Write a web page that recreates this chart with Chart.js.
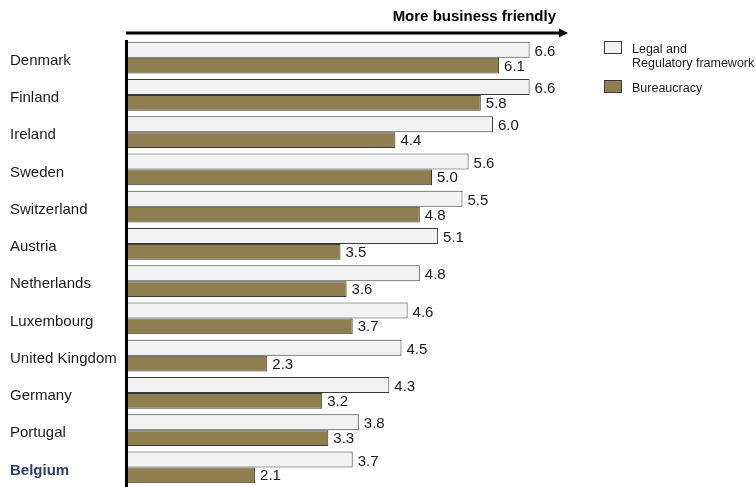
<!DOCTYPE html>
<html>
<head>
<meta charset="utf-8">
<script src="https://cdn.jsdelivr.net/npm/chart.js@4.4.1/dist/chart.umd.min.js"></script>
<style>
  html, body { margin: 0; padding: 0; background: #fff; overflow: hidden; }
  canvas { display: block; }
</style>
</head>
<body>
<canvas id="chart" width="756" height="495"></canvas>
<script>
  const countries = [
    "Denmark", "Finland", "Ireland", "Sweden", "Switzerland", "Austria",
    "Netherlands", "Luxembourg", "United Kingdom", "Germany", "Portugal", "Belgium"
  ];
  const legalFramework = [6.6, 6.6, 6.0, 5.6, 5.5, 5.1, 4.8, 4.6, 4.5, 4.3, 3.8, 3.7];
  const bureaucracy = [6.1, 5.8, 4.4, 5.0, 4.8, 3.5, 3.6, 3.7, 2.3, 3.2, 3.3, 2.1];
  const seriesNames = [["Legal and", "Regulatory framework"], ["Bureaucracy"]];
  const headline = "More business friendly";

  const FONT = '"Liberation Sans", Arial, sans-serif';
  const LIGHT = "#f2f2f2";
  const OLIVE = "#8f7f50";
  const EDGE = "#3a3a3a";
  const HIGHLIGHT = "Belgium";

  // value labels past the bar ends, then the thick baseline on top of the bars
  const valueLabels = {
    id: "valueLabels",
    afterDatasetsDraw(chart) {
      const { ctx, chartArea } = chart;
      const dy = [2, 1];
      ctx.save();
      ctx.font = "15px " + FONT;
      ctx.fillStyle = "#1a1a1a";
      ctx.textAlign = "left";
      ctx.textBaseline = "middle";
      chart.data.datasets.forEach((ds, i) => {
        chart.getDatasetMeta(i).data.forEach((bar, j) => {
          ctx.fillText(ds.data[j].toFixed(1), bar.x + 5, bar.y + dy[i]);
        });
      });
      ctx.strokeStyle = "#000";
      ctx.lineWidth = 3;
      ctx.beginPath();
      ctx.moveTo(chartArea.left - 0.5, chartArea.top + 1);
      ctx.lineTo(chartArea.left - 0.5, chart.height);
      ctx.stroke();
      ctx.restore();
    }
  };

  // arrow + caption on top, legend on the right
  const decorations = {
    id: "decorations",
    afterDraw(chart) {
      const { ctx, chartArea } = chart;
      const y = 33;
      const x0 = chartArea.left;
      const tip = 568;
      ctx.save();
      ctx.strokeStyle = "#000";
      ctx.fillStyle = "#000";
      ctx.lineWidth = 3;
      ctx.beginPath();
      ctx.moveTo(x0 - 1, y);
      ctx.lineTo(tip - 6, y);
      ctx.stroke();
      ctx.beginPath();
      ctx.moveTo(tip, y);
      ctx.lineTo(tip - 9, y - 4.5);
      ctx.lineTo(tip - 9, y + 4.5);
      ctx.closePath();
      ctx.fill();

      ctx.font = "bold 15px " + FONT;
      ctx.textAlign = "right";
      ctx.textBaseline = "middle";
      ctx.fillText(headline, 556, 17);

      // legend
      const boxes = [
        { y: 41, fill: LIGHT, lines: seriesNames[0], ty: 50 },
        { y: 80, fill: OLIVE, lines: seriesNames[1], ty: 89 }
      ];
      ctx.font = "12.5px " + FONT;
      ctx.textAlign = "left";
      ctx.lineWidth = 1;
      boxes.forEach((b) => {
        ctx.fillStyle = b.fill;
        ctx.fillRect(604.5, b.y + 0.5, 17, 12);
        ctx.strokeStyle = EDGE;
        ctx.strokeRect(604.5, b.y + 0.5, 17, 12);
        ctx.fillStyle = "#1a1a1a";
        b.lines.forEach((t, k) => ctx.fillText(t, 632, b.ty + k * 13.5));
      });
      ctx.restore();
    }
  };

  new Chart(document.getElementById("chart"), {
    type: "bar",
    data: {
      labels: countries,
      datasets: [
        {
          label: seriesNames[0].join(" "),
          data: legalFramework,
          backgroundColor: LIGHT,
          borderColor: EDGE,
          borderWidth: 1
        },
        {
          label: seriesNames[1].join(" "),
          data: bureaucracy,
          backgroundColor: OLIVE,
          borderColor: EDGE,
          borderWidth: 1
        }
      ]
    },
    options: {
      indexAxis: "y",
      responsive: false,
      animation: false,
      events: [],
      layout: { padding: { left: 10, right: 141, top: 39, bottom: 6 } },
      datasets: { bar: { categoryPercentage: 0.853, barPercentage: 1 } },
      plugins: { legend: { display: false }, tooltip: { enabled: false } },
      scales: {
        x: { display: false, min: 0, max: 8 },
        y: {
          grid: { display: false },
          border: { display: false },
          afterFit: (s) => { s.width = 117; },
          ticks: {
            crossAlign: "far",
            labelOffset: 3,
            padding: 0,
            color: (c) => countries[c.index] === HIGHLIGHT ? "#2e3d6b" : "#1a1a1a",
            font: (c) => ({
              family: FONT,
              size: 15,
              weight: countries[c.index] === HIGHLIGHT ? "bold" : "normal"
            })
          }
        }
      }
    },
    plugins: [valueLabels, decorations]
  });
</script>
</body>
</html>
